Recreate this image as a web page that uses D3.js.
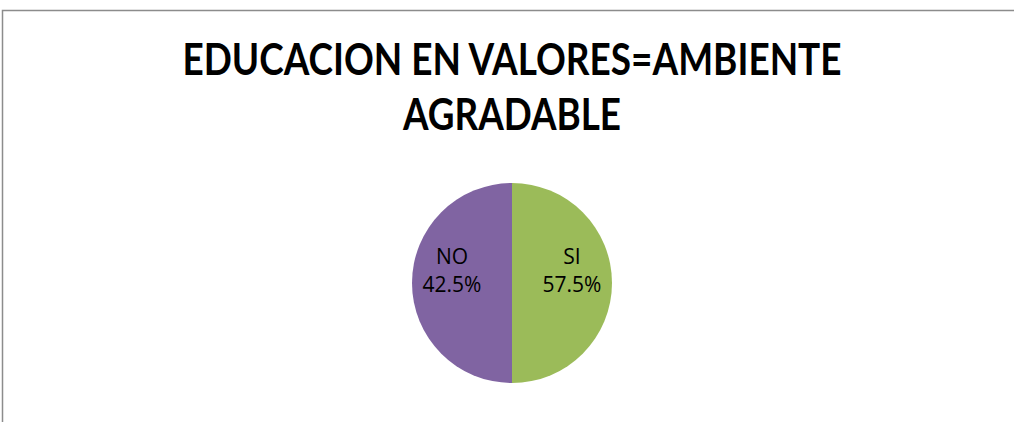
<!DOCTYPE html>
<html>
<head>
<meta charset="utf-8">
<script src="https://cdn.jsdelivr.net/npm/d3@7"></script>
<style>
  html, body { margin: 0; padding: 0; background: #fff; }
  svg { display: block; }
</style>
</head>
<body>
<svg id="chart" width="1014" height="422"></svg>
<script>
// Data
const categories = ["SI", "NO"];
// Slice sizes as drawn in the reference (the two halves are equal)
const sliceShares = [50, 50];
// Percent labels as printed on the reference
const percentLabels = ["57.5%", "42.5%"];
const colors = ["#9BBB59", "#8064A2"];
const titleLines = ["EDUCACION EN VALORES=AMBIENTE", "AGRADABLE"];

const svg = d3.select("#chart");
const W = 1014, H = 422;

// frame
svg.append("rect")
  .attr("x", 2.5).attr("y", 10.5)
  .attr("width", W + 20).attr("height", H + 20)
  .attr("fill", "#fff")
  .attr("stroke", "#8c8c8c").attr("stroke-width", 1.5);

// title
const titleFont = "Lato, 'Open Sans', sans-serif";
const titleTargets = [659, 218];
const titleBaselines = [75, 130];
titleLines.forEach((t, i) => {
  const el = svg.append("text")
    .attr("x", 512).attr("y", titleBaselines[i])
    .attr("text-anchor", "middle")
    .attr("font-family", titleFont)
    .attr("font-weight", "bold")
    .attr("font-size", 44)
    .attr("fill", "#000")
    .text(t);
  const w = el.node().getComputedTextLength();
  if (Math.abs(w - titleTargets[i]) > 2) {
    el.attr("textLength", titleTargets[i]).attr("lengthAdjust", "spacingAndGlyphs");
  }
});

// pie
const cx = 512, cy = 283, r = 100;
const data = categories.map((c, i) => ({ cat: c, share: sliceShares[i], label: percentLabels[i], color: colors[i] }));
const pie = d3.pie().value(d => d.share).sort(null);
const arc = d3.arc().innerRadius(0).outerRadius(r);
const labelArc = d3.arc().innerRadius(r * 0.6).outerRadius(r * 0.6);

const g = svg.append("g").attr("transform", `translate(${cx},${cy})`);
const arcs = pie(data);
g.selectAll("path").data(arcs).join("path")
  .attr("d", arc)
  .attr("fill", d => d.data.color);

const lbl = g.selectAll("g.lbl").data(arcs).join("g")
  .attr("class", "lbl")
  .attr("transform", d => {
    const [x, y] = labelArc.centroid(d);
    return `translate(${x},${y})`;
  });
const labelFont = "'Open Sans', Lato, sans-serif";
lbl.append("text")
  .attr("y", -19)
  .attr("text-anchor", "middle")
  .attr("font-family", labelFont)
  .attr("font-size", 21)
  .attr("fill", "#000")
  .text(d => d.data.cat);
lbl.append("text")
  .attr("y", 9)
  .attr("text-anchor", "middle")
  .attr("font-family", labelFont)
  .attr("font-size", 21)
  .attr("fill", "#000")
  .text(d => d.data.label)
  .each(function() {
    const w = this.getComputedTextLength();
    if (Math.abs(w - 59) > 2) d3.select(this).attr("textLength", 59).attr("lengthAdjust", "spacingAndGlyphs");
  });
</script>
</body>
</html>
